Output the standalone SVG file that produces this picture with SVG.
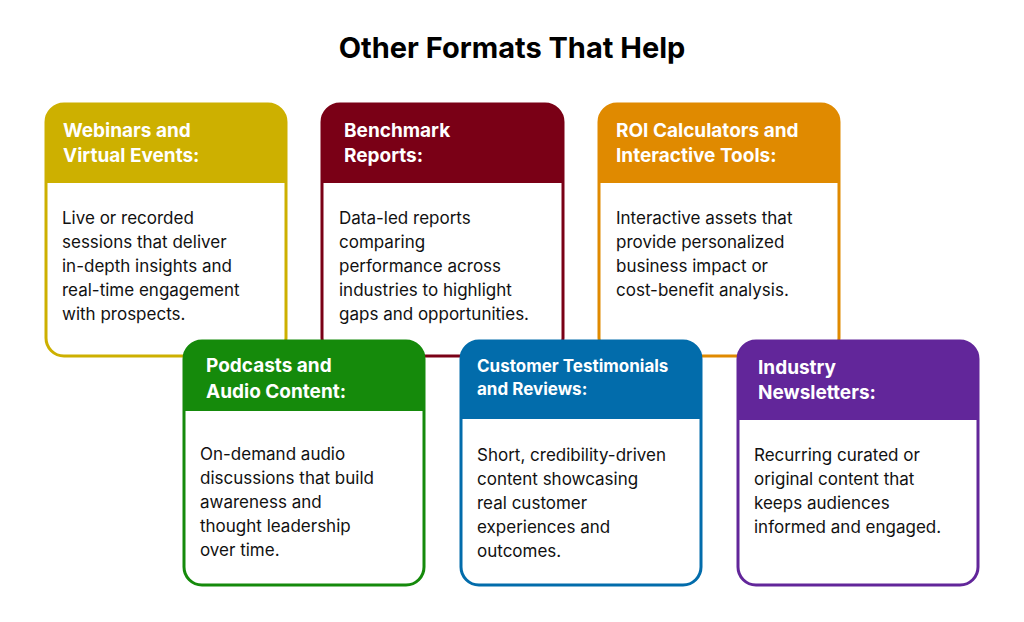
<svg xmlns="http://www.w3.org/2000/svg" width="1024" height="622" viewBox="0 0 1024 622">
<style>
.card{fill:#fff;stroke-width:3}
.t{font-family:Inter,"Noto Sans",sans-serif;font-weight:700;font-size:19px;fill:#fff}
.b{font-family:Inter,"Noto Sans",sans-serif;font-size:17px;fill:#111}
</style>
<rect width="1024" height="622" fill="#fff"/>
<text x="512" y="58" text-anchor="middle" font-family="Inter,'Noto Sans',sans-serif" font-weight="700" font-size="29" fill="#000">Other Formats That Help</text>
<g id="connectors"></g>
<g id="n1">
<rect class="card" x="46" y="104" width="240" height="252" rx="18" stroke="#CDB000"/>
<path d="M46 183V122a18 18 0 0 1 18-18h204a18 18 0 0 1 18 18v61z" fill="#CDB000"/>
<text class="t"><tspan x="63" y="137">Webinars and</tspan><tspan x="63" y="162">Virtual Events:</tspan></text>
<text class="b"><tspan x="62" y="224">Live or recorded</tspan><tspan x="62" y="248">sessions that deliver</tspan><tspan x="62" y="272">in-depth insights and</tspan><tspan x="62" y="296">real-time engagement</tspan><tspan x="62" y="320">with prospects.</tspan></text>
</g>
<g id="n2">
<rect class="card" x="322" y="104" width="241" height="252" rx="18" stroke="#7A0016"/>
<path d="M322 183V122a18 18 0 0 1 18-18h205a18 18 0 0 1 18 18v61z" fill="#7A0016"/>
<text class="t"><tspan x="344" y="137">Benchmark</tspan><tspan x="344" y="162">Reports:</tspan></text>
<text class="b"><tspan x="339" y="224">Data-led reports</tspan><tspan x="339" y="248">comparing</tspan><tspan x="339" y="272">performance across</tspan><tspan x="339" y="296">industries to highlight</tspan><tspan x="339" y="320">gaps and opportunities.</tspan></text>
</g>
<g id="n3">
<rect class="card" x="599" y="104" width="240" height="252" rx="18" stroke="#E08A00"/>
<path d="M599 183V122a18 18 0 0 1 18-18h204a18 18 0 0 1 18 18v61z" fill="#E08A00"/>
<text class="t"><tspan x="616" y="137">ROI Calculators and</tspan><tspan x="616" y="162">Interactive Tools:</tspan></text>
<text class="b"><tspan x="616" y="224">Interactive assets that</tspan><tspan x="616" y="248">provide personalized</tspan><tspan x="616" y="272">business impact or</tspan><tspan x="616" y="296">cost-benefit analysis.</tspan></text>
</g>
<g id="n4">
<rect class="card" x="184" y="341" width="240" height="244" rx="18" stroke="#158A0B"/>
<path d="M184 411V359a18 18 0 0 1 18-18h204a18 18 0 0 1 18 18v52z" fill="#158A0B"/>
<text class="t"><tspan x="206" y="372">Podcasts and</tspan><tspan x="206" y="398">Audio Content:</tspan></text>
<text class="b"><tspan x="200" y="460">On-demand audio</tspan><tspan x="200" y="484">discussions that build</tspan><tspan x="200" y="508">awareness and</tspan><tspan x="200" y="532">thought leadership</tspan><tspan x="200" y="556">over time.</tspan></text>
</g>
<g id="n5">
<rect class="card" x="461" y="341" width="240" height="244" rx="18" stroke="#026CAB"/>
<path d="M461 419V359a18 18 0 0 1 18-18h204a18 18 0 0 1 18 18v60z" fill="#026CAB"/>
<text class="t" style="font-size:17px"><tspan x="477" y="372">Customer Testimonials</tspan><tspan x="477" y="395">and Reviews:</tspan></text>
<text class="b"><tspan x="477" y="461">Short, credibility-driven</tspan><tspan x="477" y="485">content showcasing</tspan><tspan x="477" y="509">real customer</tspan><tspan x="477" y="533">experiences and</tspan><tspan x="477" y="557">outcomes.</tspan></text>
</g>
<g id="n6">
<rect class="card" x="738" y="341" width="240" height="244" rx="18" stroke="#62269A"/>
<path d="M738 420V359a18 18 0 0 1 18-18h204a18 18 0 0 1 18 18v61z" fill="#62269A"/>
<text class="t"><tspan x="758" y="374">Industry</tspan><tspan x="758" y="399">Newsletters:</tspan></text>
<text class="b"><tspan x="754" y="461">Recurring curated or</tspan><tspan x="754" y="485">original content that</tspan><tspan x="754" y="509">keeps audiences</tspan><tspan x="754" y="533">informed and engaged.</tspan></text>
</g>
</svg>
